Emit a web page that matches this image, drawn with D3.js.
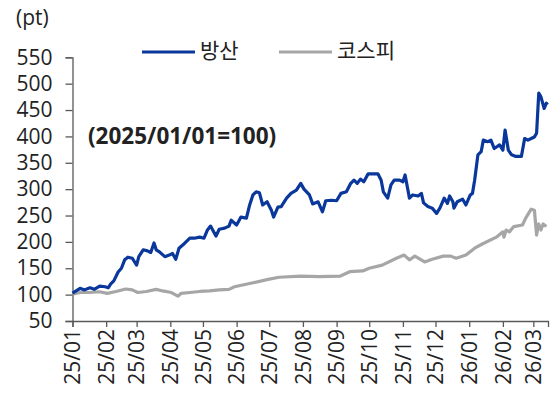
<!DOCTYPE html>
<html><head><meta charset="utf-8">
<script src="https://cdn.jsdelivr.net/npm/d3@7"></script>
<style>
html,body{margin:0;padding:0;background:#fff;}
svg{display:block;}
text{font-family:"Open Sans","Noto Sans CJK KR",sans-serif;fill:#222;}
</style></head><body>
<svg id="chart" width="555" height="403"></svg>
<script>
const seriesNames = ["방산", "코스피"];
const seriesColors = ["#0a379b", "#a6a6a6"];
const yTicks = [50,100,150,200,250,300,350,400,450,500,550];
const xTickLabels = ["25/01","25/02","25/03","25/04","25/05","25/06","25/07","25/08","25/09","25/10","25/11","25/12","26/01","26/02","26/03"];
const xTickDates = ["2025-01-01","2025-02-01","2025-03-01","2025-04-01","2025-05-01","2025-06-01","2025-07-01","2025-08-01","2025-09-01","2025-10-01","2025-11-01","2025-12-01","2026-01-01","2026-02-01","2026-03-01"];

const defenseDates = ["2025-01-01","2025-01-08","2025-01-12","2025-01-17","2025-01-21","2025-01-26","2025-01-31","2025-02-03","2025-02-05","2025-02-08","2025-02-12","2025-02-15","2025-02-18","2025-02-21","2025-02-25","2025-03-01","2025-03-03","2025-03-07","2025-03-11","2025-03-14","2025-03-17","2025-03-19","2025-03-22","2025-03-27","2025-03-31","2025-04-03","2025-04-06","2025-04-09","2025-04-14","2025-04-19","2025-04-23","2025-04-28","2025-05-02","2025-05-05","2025-05-08","2025-05-13","2025-05-16","2025-05-21","2025-05-25","2025-05-27","2025-06-01","2025-06-05","2025-06-10","2025-06-13","2025-06-16","2025-06-19","2025-06-22","2025-06-25","2025-06-29","2025-07-03","2025-07-05","2025-07-09","2025-07-12","2025-07-17","2025-07-21","2025-07-26","2025-07-30","2025-08-02","2025-08-07","2025-08-10","2025-08-15","2025-08-19","2025-08-22","2025-08-27","2025-09-01","2025-09-05","2025-09-10","2025-09-14","2025-09-17","2025-09-20","2025-09-23","2025-09-26","2025-09-30","2025-10-04","2025-10-09","2025-10-12","2025-10-14","2025-10-18","2025-10-21","2025-10-24","2025-10-29","2025-11-01","2025-11-03","2025-11-05","2025-11-07","2025-11-10","2025-11-15","2025-11-18","2025-11-20","2025-11-24","2025-11-28","2025-12-02","2025-12-05","2025-12-09","2025-12-12","2025-12-14","2025-12-17","2025-12-18","2025-12-21","2025-12-26","2025-12-29","2026-01-02","2026-01-04","2026-01-06","2026-01-09","2026-01-12","2026-01-14","2026-01-18","2026-01-21","2026-01-24","2026-01-29","2026-02-01","2026-02-03","2026-02-06","2026-02-09","2026-02-13","2026-02-18","2026-02-21","2026-02-24","2026-02-27","2026-03-02","2026-03-04","2026-03-05","2026-03-06","2026-03-08","2026-03-11","2026-03-13","2026-03-14"];
const defenseValues = [103,112,109,113,110,116,115,113,120,126,143,150,166,171,169,156,172,185,183,180,198,185,181,172,175,178,167,188,197,207,207,209,207,222,230,211,224,226,230,241,232,247,245,270,289,295,293,270,276,260,247,266,267,283,292,298,311,300,289,272,276,257,278,279,278,292,295,311,317,311,319,314,329,329,329,317,295,283,308,317,317,314,327,305,283,289,287,292,274,267,264,254,264,283,273,287,276,264,276,281,270,289,292,317,365,371,393,390,393,377,384,374,412,374,365,362,362,396,393,396,399,406,444,482,475,453,463,460];

const kospiDates = ["2025-01-01","2025-01-08","2025-01-17","2025-01-26","2025-02-02","2025-02-10","2025-02-19","2025-02-25","2025-03-02","2025-03-10","2025-03-19","2025-03-25","2025-04-02","2025-04-08","2025-04-11","2025-04-19","2025-04-28","2025-05-07","2025-05-16","2025-05-25","2025-05-30","2025-06-14","2025-06-30","2025-07-10","2025-07-30","2025-08-16","2025-09-04","2025-09-13","2025-09-25","2025-10-01","2025-10-13","2025-10-26","2025-11-02","2025-11-07","2025-11-12","2025-11-21","2025-11-28","2025-12-08","2025-12-15","2025-12-20","2025-12-29","2026-01-06","2026-01-13","2026-01-26","2026-02-01","2026-02-02","2026-02-04","2026-02-07","2026-02-11","2026-02-19","2026-02-22","2026-02-27","2026-03-02","2026-03-04","2026-03-06","2026-03-08","2026-03-10","2026-03-13"];
const kospiValues = [101,104,104,105.5,102.5,106,110.7,109,104,106,110,107,104,97,102.5,104,106,107,109,110,115,121.5,129,133,135,134,135,143.5,145,150,156,169,175,166,173,162,167,173,173,169,175,188,196,209,219,209,222.5,219,229,232,245,262,260,213,234,222.5,234,229];

const parse = d3.timeParse("%Y-%m-%d");
const series = [
  defenseDates.map((d,i)=>({date:parse(d), value:defenseValues[i]})),
  kospiDates.map((d,i)=>({date:parse(d), value:kospiValues[i]}))
];

const svg = d3.select("#chart");
const x = d3.scaleTime().domain([parse("2025-01-01"), new Date(2026,2,14,12)]).range([72.5, 548]);
const y = d3.scaleLinear().domain([50,550]).range([321, 57.3]);

const axisColor = "#595959";

// y axis
const gy = svg.append("g").attr("transform","translate(72.5,0)")
  .call(d3.axisLeft(y).tickValues(yTicks).tickSize(7).tickPadding(13).tickFormat(d3.format("d")));
gy.selectAll("text").style("font-size","21px").attr("fill","#222");
gy.selectAll("line,path").attr("stroke",axisColor).attr("stroke-width",1.3);

// x axis
const gx = svg.append("g").attr("transform","translate(0,321)")
  .call(d3.axisBottom(x).tickValues(xTickDates.map(parse)).tickSize(6)
    .tickFormat((d,i)=>xTickLabels[i]));
gx.selectAll("line,path").attr("stroke",axisColor).attr("stroke-width",1.3);
gx.selectAll("text").style("font-size","21px").attr("fill","#222")
  .attr("transform","rotate(-90)").attr("text-anchor","end")
  .attr("x",-8).attr("y",0).attr("dy","0.35em");

// lines
const line = d3.line().x(d=>x(d.date)).y(d=>y(d.value));
[1,0].forEach(i=>{
  svg.append("path").datum(series[i]).attr("d",line)
    .attr("fill","none").attr("stroke",seriesColors[i]).attr("stroke-width",3.2)
    .attr("stroke-linejoin","round");
});

// texts
svg.append("text").attr("x",16).attr("y",25).style("font-size","21px").text("(pt)");
svg.append("text").attr("x",88).attr("y",144).style("font-size","22.5px").style("font-weight","bold").text("(2025/01/01=100)");

// legend
const legendX = [142, 279];
seriesNames.forEach((n,i)=>{
  svg.append("line").attr("x1",legendX[i]).attr("x2",legendX[i]+53).attr("y1",52).attr("y2",52)
    .attr("stroke",seriesColors[i]).attr("stroke-width",3);
  svg.append("text").attr("x",legendX[i]+58).attr("y",58).style("font-size","21px")
    .style("font-family","'Noto Sans CJK KR',sans-serif").text(n);
});
</script>
</body></html>
